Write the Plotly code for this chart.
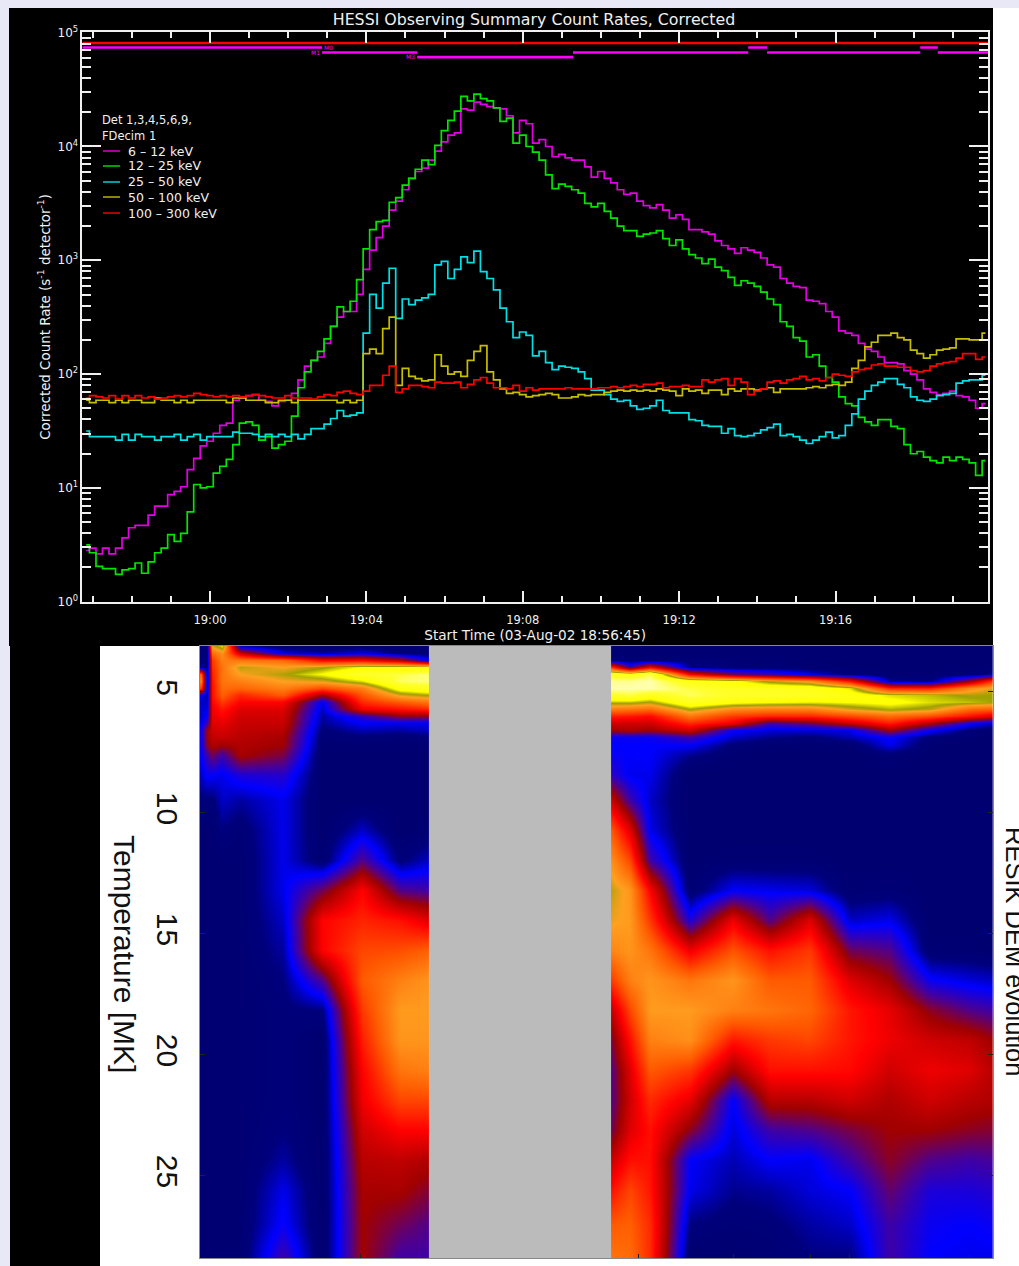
import pandas as pd
import plotly.graph_objects as go

W, H = 1019, 1266

# ---- HESSI count rates: log10(counts / s / detector), one value every 10 s from 18:56:50
start_time = "2002-08-03 18:56:50"
log_6_12 = [
 .45,.47,.42,.47,.42,.47,.56,.65,.67,.67,
 .76,.84,.84,.94,.97,1.01,1.16,1.26,1.37,1.41,
 1.48,1.55,1.57,1.77,1.79,1.81,1.82,1.77,1.76,1.72,
 1.76,1.77,1.83,1.95,2.07,2.12,2.15,2.27,2.42,2.50,
 2.55,2.55,2.70,2.92,3.09,3.20,3.30,3.44,3.52,3.62,
 3.72,3.78,3.81,3.88,3.96,4.04,4.10,4.12,4.33,4.32,
 4.39,4.37,4.35,4.34,4.33,4.27,4.12,4.23,4.20,4.03,
 4.06,4.00,3.91,3.93,3.90,3.88,3.88,3.82,3.73,3.78,
 3.72,3.68,3.62,3.58,3.59,3.52,3.48,3.46,3.49,3.44,
 3.37,3.40,3.36,3.27,3.27,3.25,3.23,3.17,3.13,3.10,
 3.06,3.11,3.09,3.07,3.02,2.96,2.94,2.84,2.80,2.77,
 2.76,2.65,2.64,2.62,2.55,2.50,2.38,2.36,2.34,2.27,
 2.22,2.20,2.15,2.10,2.10,2.09,2.03,2.00,1.95,1.87,
 1.84,1.82,1.83,1.85,1.81,1.80,1.77,1.70,1.74]
log_12_25 = [
 .50,.43,.31,.29,.29,.24,.28,.29,.34,.25,
 .35,.43,.47,.59,.53,.60,.79,1.03,1.00,1.01,
 1.13,1.19,1.25,1.38,1.57,1.58,1.55,1.42,1.45,1.35,
 1.38,1.41,1.63,1.88,2.02,2.12,2.20,2.31,2.42,2.59,
 2.55,2.64,2.83,3.10,3.27,3.34,3.35,3.51,3.55,3.66,
 3.72,3.80,3.88,3.84,4.01,4.14,4.23,4.31,4.44,4.40,
 4.46,4.42,4.40,4.34,4.22,4.25,4.03,4.10,4.00,3.95,
 3.88,3.75,3.63,3.67,3.65,3.62,3.59,3.50,3.47,3.50,
 3.43,3.37,3.30,3.26,3.26,3.21,3.23,3.24,3.26,3.19,
 3.13,3.18,3.10,3.05,3.02,2.97,3.01,2.94,2.91,2.85,
 2.78,2.82,2.80,2.77,2.72,2.66,2.61,2.46,2.42,2.32,
 2.29,2.15,2.17,2.07,1.97,1.93,1.80,1.74,1.72,1.62,
 1.58,1.55,1.60,1.60,1.54,1.52,1.38,1.30,1.32,1.27,
 1.24,1.22,1.27,1.24,1.27,1.25,1.22,1.11,1.24]
log_25_50 = [
 1.50,1.45,1.45,1.45,1.45,1.42,1.47,1.42,1.47,1.45,
 1.45,1.42,1.45,1.45,1.47,1.42,1.45,1.47,1.42,1.45,
 1.45,1.45,1.45,1.49,1.48,1.48,1.47,1.45,1.47,1.45,
 1.47,1.45,1.47,1.43,1.47,1.52,1.52,1.56,1.61,1.68,
 1.63,1.64,1.66,2.36,2.70,2.58,2.80,2.93,2.49,2.66,
 2.61,2.65,2.67,2.70,2.96,2.99,2.84,2.92,3.03,2.98,
 3.08,2.90,2.84,2.74,2.58,2.46,2.32,2.37,2.34,2.16,
 2.20,2.10,2.04,2.07,2.06,2.05,2.02,1.96,1.86,1.86,
 1.82,1.78,1.76,1.77,1.72,1.69,1.70,1.72,1.77,1.68,
 1.66,1.66,1.66,1.60,1.59,1.55,1.54,1.54,1.48,1.52,
 1.46,1.45,1.46,1.48,1.51,1.53,1.56,1.46,1.47,1.45,
 1.42,1.39,1.42,1.45,1.49,1.44,1.46,1.55,1.65,1.78,
 1.85,1.90,1.93,1.96,1.96,1.91,1.88,1.80,1.77,1.76,
 1.78,1.81,1.82,1.83,1.92,1.94,1.95,1.95,1.99]
log_50_100 = [
 1.77,1.75,1.77,1.77,1.75,1.77,1.75,1.77,1.77,1.75,
 1.75,1.79,1.77,1.77,1.75,1.77,1.75,1.77,1.77,1.77,
 1.77,1.77,1.75,1.79,1.79,1.77,1.77,1.77,1.75,1.75,
 1.77,1.77,1.75,1.77,1.77,1.77,1.77,1.77,1.77,1.75,
 1.77,1.75,1.77,2.18,2.22,2.18,2.40,2.50,1.90,2.05,
 1.98,1.96,1.94,1.95,2.17,2.07,2.00,2.02,1.98,2.12,
 2.20,2.25,2.02,1.95,1.87,1.83,1.84,1.82,1.80,1.81,
 1.82,1.83,1.82,1.79,1.79,1.80,1.82,1.81,1.82,1.82,
 1.84,1.85,1.86,1.85,1.86,1.85,1.86,1.85,1.87,1.86,
 1.85,1.81,1.87,1.85,1.86,1.83,1.86,1.86,1.82,1.87,
 1.85,1.87,1.87,1.86,1.87,1.88,1.84,1.87,1.87,1.87,
 1.87,1.88,1.89,1.88,1.90,1.91,1.90,1.93,2.05,2.12,
 2.24,2.28,2.34,2.34,2.36,2.32,2.30,2.21,2.18,2.14,
 2.17,2.21,2.22,2.23,2.31,2.31,2.30,2.30,2.36]
log_100_300 = [
 1.79,1.81,1.80,1.79,1.81,1.78,1.81,1.79,1.81,1.79,
 1.80,1.78,1.79,1.80,1.81,1.80,1.81,1.83,1.82,1.81,
 1.80,1.81,1.80,1.81,1.80,1.81,1.82,1.81,1.80,1.79,
 1.79,1.81,1.79,1.79,1.79,1.78,1.80,1.82,1.81,1.84,
 1.85,1.83,1.82,1.85,1.90,1.90,1.99,2.07,1.84,1.87,
 1.90,1.90,1.89,1.88,1.93,1.92,1.92,1.93,1.88,1.91,
 1.95,1.97,1.92,1.88,1.88,1.87,1.90,1.85,1.88,1.86,
 1.87,1.87,1.87,1.87,1.88,1.87,1.87,1.87,1.87,1.88,
 1.88,1.89,1.88,1.89,1.90,1.89,1.91,1.91,1.92,1.88,
 1.89,1.89,1.90,1.89,1.89,1.95,1.93,1.95,1.96,1.90,
 1.96,1.93,1.82,1.85,1.87,1.93,1.94,1.92,1.95,1.96,
 1.98,1.95,1.96,1.94,1.97,2.00,1.99,1.98,2.02,2.04,
 2.05,2.08,2.09,2.07,2.07,2.06,2.06,2.03,2.02,2.03,
 2.07,2.09,2.10,2.11,2.14,2.18,2.18,2.13,2.15]
band_names = ["6 - 12 keV", "12 - 25 keV", "25 - 50 keV", "50 - 100 keV", "100 - 300 keV"]
band_colors = ["#e400e4", "#00e600", "#00e0e6", "#c8be00", "#ff0000"]

# Flag bars along the top of the panel: start, end, log10 level
flag_red = [("18:56:44", "19:19:54", 4.91)]
flag_magenta = [
 ("18:56:44", "19:02:52", 4.87), ("19:02:52", "19:05:18", 4.826), ("19:05:18", "19:09:17", 4.785),
 ("19:09:17", "19:13:46", 4.826), ("19:13:46", "19:14:15", 4.87), ("19:14:15", "19:18:10", 4.826),
 ("19:18:10", "19:18:37", 4.87), ("19:18:37", "19:19:54", 4.826)]

# ---- RESIK DEM: time in minutes after 19:00, temperature in MK
dem_temp = [3.10,3.39,3.68,3.97,4.26,4.55,4.83,5.12,5.41,5.70,5.99,6.28,6.57,6.86,7.19,7.60,8.43,
            9.46,10.70,11.94,13.18,14.42,15.66,16.90,18.14,19.38,20.62,21.86,23.10,24.34,25.58,27.02,28.39]
dem_time_before = [-0.23,-0.08,0.05,0.31,0.77,1.87,2.87,3.89,4.86,5.60]
dem_time_after = [10.26,10.74,11.25,12.28,13.38,14.32,15.35,16.37,17.39,18.41,19.44,20.03]
dem_columns_before = [
 [.04,.05,.05,.08,.55,.62,.50,.12,.10,.10,.10,.12,.14,.14,.14,.13,.10,.05,.03,.03,.03,.03,.03,.03,.03,.03,.03,.03,.03,.03,.03,.03,.03],
 [.06,.06,.06,.06,.06,.06,.08,.08,.10,.12,.14,.20,.30,.30,.28,.20,.14,.05,.03,.03,.03,.03,.03,.03,.03,.03,.03,.03,.03,.03,.03,.03,.03],
 [.70,.58,.50,.48,.46,.45,.44,.44,.42,.40,.39,.38,.36,.34,.32,.25,.13,.05,.03,.03,.03,.03,.03,.03,.03,.03,.03,.03,.03,.03,.03,.03,.03],
 [.78,.65,.62,.60,.60,.60,.58,.56,.50,.45,.42,.39,.37,.35,.30,.20,.12,.10,.06,.03,.03,.03,.03,.03,.03,.03,.03,.03,.03,.03,.03,.03,.03],
 [.10,.36,.60,.72,.68,.62,.57,.47,.42,.38,.36,.35,.34,.33,.32,.31,.16,.08,.04,.03,.03,.03,.03,.03,.03,.03,.03,.03,.03,.03,.03,.03,.03],
 [.03,.12,.58,.68,.73,.68,.62,.55,.42,.38,.36,.35,.33,.31,.30,.26,.17,.12,.12,.12,.12,.10,.08,.06,.05,.05,.05,.05,.06,.08,.12,.14,.20],
 [.02,.08,.42,.73,.80,.70,.53,.30,.12,.10,.08,.07,.05,.04,.03,.02,.02,.02,.02,.03,.25,.42,.42,.22,.06,.02,.02,.02,.02,.02,.02,.02,.02],
 [.03,.12,.42,.80,.90,.78,.62,.54,.48,.40,.18,.13,.09,.05,.03,.02,.02,.02,.10,.22,.42,.47,.52,.55,.50,.46,.42,.40,.36,.33,.31,.30,.30],
 [.03,.05,.33,.80,.93,.95,.84,.70,.55,.44,.28,.12,.08,.04,.03,.02,.02,.02,.02,.05,.22,.44,.53,.62,.67,.66,.60,.52,.42,.34,.31,.25,.20],
 [.03,.04,.12,.80,.97,.97,.88,.74,.60,.47,.28,.12,.10,.05,.03,.02,.02,.02,.03,.10,.20,.38,.56,.66,.67,.66,.62,.52,.42,.32,.27,.22,.20],
]
dem_columns_after = [
 [.03,.03,.05,.50,.88,.98,1.0,.90,.76,.61,.46,.36,.30,.14,.13,.14,.18,.36,.55,.65,.72,.69,.63,.50,.34,.26,.22,.22,.25,.35,.44,.55,.60],
 [.03,.03,.04,.20,.85,.98,1.0,.93,.76,.60,.45,.36,.32,.14,.13,.13,.12,.20,.38,.52,.66,.67,.66,.62,.52,.44,.38,.36,.38,.44,.52,.56,.58],
 [.03,.03,.04,.42,.94,1.0,1.0,.87,.73,.58,.43,.36,.30,.14,.13,.13,.12,.10,.12,.20,.42,.50,.60,.66,.67,.62,.55,.48,.44,.44,.45,.48,.48],
 [.03,.03,.05,.06,.42,.86,.93,.95,.88,.74,.60,.48,.36,.20,.13,.07,.02,.02,.02,.02,.03,.16,.40,.60,.67,.65,.50,.39,.28,.13,.12,.06,.02],
 [.03,.03,.04,.04,.25,.82,.88,.90,.82,.64,.50,.40,.14,.10,.05,.03,.02,.02,.02,.03,.13,.40,.54,.66,.62,.45,.30,.13,.11,.09,.07,.04,.02],
 [.03,.03,.03,.04,.20,.72,.87,.90,.80,.62,.47,.20,.11,.07,.03,.02,.02,.02,.02,.03,.12,.22,.44,.55,.60,.50,.44,.33,.20,.13,.08,.05,.03],
 [.03,.03,.03,.03,.12,.66,.86,.88,.79,.62,.47,.25,.11,.05,.03,.02,.02,.02,.02,.03,.11,.38,.50,.55,.57,.52,.44,.33,.22,.12,.11,.08,.06],
 [.03,.03,.03,.03,.05,.45,.78,.85,.80,.70,.52,.35,.12,.09,.03,.02,.02,.02,.02,.02,.03,.10,.25,.38,.45,.45,.43,.36,.26,.20,.13,.10,.06],
 [.03,.03,.03,.03,.03,.08,.47,.78,.82,.75,.58,.46,.30,.14,.12,.04,.02,.02,.02,.02,.04,.12,.22,.30,.39,.40,.36,.32,.30,.28,.24,.20,.20],
 [.03,.03,.03,.03,.03,.06,.46,.76,.78,.72,.53,.32,.14,.05,.03,.02,.02,.02,.02,.02,.02,.02,.03,.14,.28,.36,.40,.36,.30,.22,.16,.14,.13],
 [.03,.03,.03,.03,.04,.30,.64,.73,.76,.58,.44,.15,.05,.03,.02,.02,.02,.02,.02,.02,.02,.02,.03,.11,.22,.34,.38,.33,.28,.20,.16,.13,.12],
 [.03,.03,.03,.03,.08,.50,.70,.74,.74,.56,.38,.10,.03,.02,.02,.02,.02,.02,.02,.02,.02,.02,.02,.10,.20,.30,.33,.32,.27,.21,.17,.14,.12],
]
dem_gap = [5.60, 10.26]
dem_colorscale = [
 [0, "#00006a"], [.06, "#00007c"], [.13, "#0000ff"], [.22, "#50008c"], [.30, "#a00000"], [.42, "#ff0000"],
 [.55, "#ff5a00"], [.68, "#ffa020"], [.74, "#a0a000"], [.80, "#ffff00"], [.92, "#ffff30"], [1, "#ffffb0"]]
temp_ticks = [5, 10, 15, 20, 25]
dem_time_ticks = [1.79, 3.84, 4.86, 10.97, 13.38, 15.35, 16.37, 17.39, 18.41, 19.44]

WHITE = "#f0f0f0"
IDL = "DejaVu Sans"


def px(x):
    return x / W


def py(y):
    return 1 - y / H


fig = go.Figure()
times = pd.date_range(start_time, periods=139, freq="10s")
for name, color, logs in zip(band_names, band_colors, [log_6_12, log_12_25, log_25_50, log_50_100, log_100_300]):
    fig.add_trace(go.Scatter(
        x=times[:len(logs)], y=[10 ** v for v in logs], mode="lines", name=name, showlegend=False,
        line=dict(color=color, width=1.7, shape="hvh"), xaxis="x", yaxis="y"))
for color, bars in (("#ff0000", flag_red), ("#ff00ff", flag_magenta)):
    for a, b, lv in bars:
        fig.add_trace(go.Scatter(
            x=["2002-08-03 " + a, "2002-08-03 " + b], y=[10 ** lv, 10 ** lv], mode="lines", showlegend=False,
            line=dict(color=color, width=2.6), xaxis="x", yaxis="y", hoverinfo="skip"))

for cols, xs in ((dem_columns_before, dem_time_before), (dem_columns_after, dem_time_after)):
    fig.add_trace(go.Heatmap(
        x=xs, y=dem_temp, z=[list(r) for r in zip(*cols)], zsmooth="best", coloraxis="coloraxis",
        xaxis="x2", yaxis="y2"))

shapes = [
    dict(type="rect", xref="paper", yref="paper", x0=px(9), x1=px(993), y0=py(646), y1=py(8),
         fillcolor="#000000", line_width=0, layer="below"),
    dict(type="rect", xref="paper", yref="paper", x0=px(993), x1=1, y0=0, y1=py(8),
         fillcolor="#ffffff", line_width=0, layer="below"),
    dict(type="rect", xref="paper", yref="paper", x0=px(10), x1=px(100), y0=0, y1=py(646),
         fillcolor="#000000", line_width=0, layer="below"),
    dict(type="rect", xref="paper", yref="paper", x0=px(100), x1=px(993), y0=0, y1=py(646),
         fillcolor="#ffffff", line_width=0, layer="below"),
    dict(type="rect", xref="x2", yref="y2 domain", x0=dem_gap[0], x1=dem_gap[1], y0=0, y1=1,
         fillcolor="#bbbbbb", line_width=0, layer="above"),
]
legend_rows = [151, 166, 182, 197, 213]
for row, color in zip(legend_rows, band_colors):
    shapes.append(dict(type="line", xref="paper", yref="paper", x0=px(103), x1=px(120), y0=py(row), y1=py(row),
                       line=dict(color=color, width=1.4)))

ann = []


def text(x, y, s, size=10, color=WHITE, font=IDL, anchor="left", angle=0, yanchor="middle"):
    ann.append(dict(xref="paper", yref="paper", x=px(x), y=py(y), text=s, showarrow=False, textangle=angle,
                    xanchor=anchor, yanchor=yanchor, font=dict(family=font, size=size, color=color)))


text(100, 120, "Det 1,3,4,5,6,9,", size=11.5)
text(100, 136, "FDecim 1", size=11.5)
for row, name in zip(legend_rows, band_names):
    text(126, row, name.replace(" - ", " \u2013 "), size=12.5)
text(328, 47.5, "M0", size=6, color="#ff00ff", anchor="center")
text(315, 52.5, "M1", size=6, color="#ff00ff", anchor="center")
text(410, 57, "M3", size=6, color="#ff00ff", anchor="center")
text(125, 954, "Temperature [MK]", size=30, color="#111111", font="Liberation Sans", anchor="center", angle=90)
text(1015, 951, "RESIK DEM evolution", size=25.5, color="#111111", font="Liberation Sans", anchor="center", angle=90)

fig.update_layout(
    width=W, height=H, margin=dict(l=0, r=0, t=0, b=0, autoexpand=False), paper_bgcolor="#e8e8f6",
    plot_bgcolor="rgba(0,0,0,0)",
    showlegend=False, shapes=shapes, annotations=ann,
    title=dict(text="HESSI Observing Summary Count Rates, Corrected", x=534 / W, xanchor="center",
               y=py(19), yanchor="middle", font=dict(family=IDL, size=15.8, color=WHITE)),
    coloraxis=dict(colorscale=dem_colorscale, cmin=0, cmax=1, showscale=False),
    xaxis=dict(
        domain=[px(82.3), px(988)], type="date", range=["2002-08-03 18:56:44", "2002-08-03 19:19:54"],
        automargin=False,
        tickmode="array", tickvals=["2002-08-03 19:%02d:00" % m for m in (0, 4, 8, 12, 16)],
        ticktext=["19:%02d" % m for m in (0, 4, 8, 12, 16)],
        ticks="inside", ticklen=11, tickwidth=1.5, tickcolor=WHITE, showgrid=False, zeroline=False,
        minor=dict(ticks="inside", ticklen=6, tickwidth=1.5, tickcolor=WHITE, showgrid=False,
                   tickvals=["2002-08-03 %s:%02d:00" % ("18" if m < 60 else "19", m % 60)
                             for m in range(57, 80) if (m - 60) % 4 != 0]),
        showline=True, linecolor=WHITE, linewidth=1.5, mirror="allticks", ticklabelstandoff=7,
        tickfont=dict(family=IDL, size=11.5, color=WHITE), anchor="y",
        title=dict(text="Start Time (03-Aug-02 18:56:45)", standoff=2,
                   font=dict(family=IDL, size=13.6, color=WHITE))),
    yaxis=dict(
        domain=[py(601.7), py(32)], type="log", range=[0, 5.006], automargin=False,
        tickmode="array", tickvals=[10 ** k for k in range(6)],
        ticktext=["10<sup>%d</sup>" % k for k in range(6)],
        ticks="inside", ticklen=19, tickwidth=1.5, tickcolor=WHITE, showgrid=False, zeroline=False,
        minor=dict(ticks="inside", ticklen=9, tickwidth=1.5, tickcolor=WHITE, showgrid=False,
                   tickvals=[m * 10 ** k for k in range(5) for m in range(2, 10)]),
        showline=True, linecolor=WHITE, linewidth=1.5, mirror="allticks",
        tickfont=dict(family=IDL, size=12, color=WHITE), anchor="x",
        title=dict(text="Corrected Count Rate (s<sup>-1</sup> detector<sup>-1</sup>)", standoff=4,
                   font=dict(family=IDL, size=13.4, color=WHITE))),
    xaxis2=dict(
        domain=[px(200), px(993)], range=[-0.256, 20.03], tickmode="array", tickvals=dem_time_ticks,
        automargin=False,
        showticklabels=False, ticks="inside", ticklen=4, tickcolor="#222222", showgrid=False, zeroline=False,
        showline=True, linecolor="#888888", linewidth=1, mirror=True, anchor="y2"),
    yaxis2=dict(
        domain=[py(1258), py(646)], range=[28.39, 3.10], tickmode="array", tickvals=temp_ticks,
        automargin=False,
        ticktext=[str(t) for t in temp_ticks], tickangle=90, ticklabelstandoff=6,
        ticks="inside", ticklen=5, tickcolor="#222222", showgrid=False, zeroline=False,
        showline=True, linecolor="#888888", linewidth=1, mirror="allticks", anchor="x2",
        tickfont=dict(family="Liberation Sans", size=30, color="#111111")),
)

fig.write_html("out.html", config={"displayModeBar": False},
               post_script="document.body.style.margin='0';document.body.style.overflow='hidden';")
